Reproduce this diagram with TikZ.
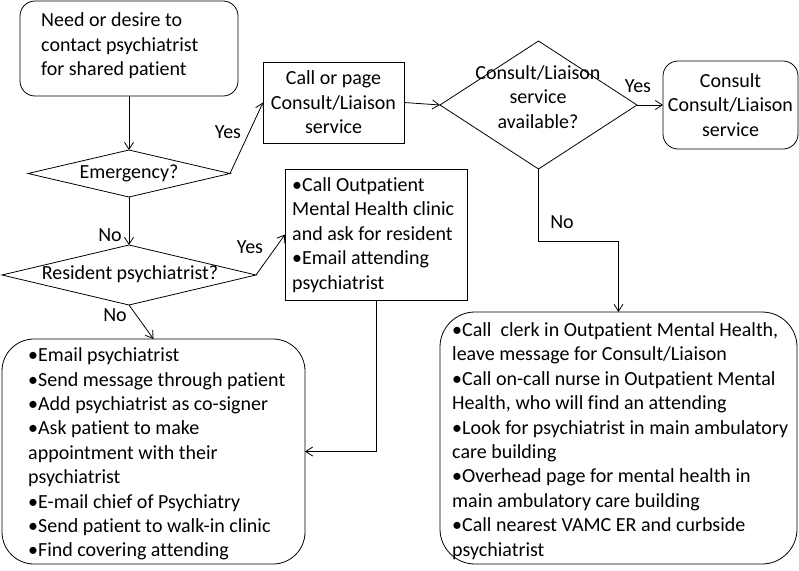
\documentclass[tikz,border=0pt]{standalone}
\usepackage{fontspec}
\setmainfont{Carlito}[Ligatures=NoCommon]
\usetikzlibrary{arrows.meta,shapes.geometric}
\newcommand{\fs}{\fontsize{20pt}{24.4pt}\selectfont}
\begin{document}
\begin{tikzpicture}[x=1pt,y=-1pt,
  box/.style={draw, line width=0.8pt, inner sep=0pt, outer sep=0pt, align=center, font=\fs},
  rbox/.style={box, rounded corners=15pt},
  diam/.style={draw, diamond, line width=0.8pt, inner sep=0pt, outer sep=0pt},
  lbl/.style={font=\fs, inner sep=0pt},
  txt/.style={font=\fs, inner sep=0pt, align=left, anchor=west},
  arr/.style={line width=0.8pt, -{Straight Barb[length=7pt,width=9pt]}}]
\useasboundingbox (0,0) rectangle (799,570);

\node[rbox, minimum width=218pt, minimum height=95pt] (start) at (129,48.5) {};
\node[txt] (startt) at (41,46) {Need or desire to\\contact psychiatrist\\for shared patient};

\node[diam, minimum width=202pt, minimum height=47pt] (emerg) at (129,173.5) {};
\node[lbl] (emergt) at (129,173) {Emergency?};

\node[diam, minimum width=254pt, minimum height=60pt] (res) at (129,275) {};
\node[lbl] (rest) at (130,274) {Resident psychiatrist?};

\node[box, minimum width=141pt, minimum height=81pt] (call) at (333.5,102.5) {Call or page\\Consult/Liaison\\service};

\node[box, minimum width=182pt, minimum height=131pt] (out) at (376,234.5) {};
\node[txt] (outt) at (292,235) {•Call Outpatient\\Mental Health clinic\\and ask for resident\\•Email attending\\psychiatrist};

\node[diam, minimum width=197pt, minimum height=128pt] (cons) at (538.5,105) {};
\node[lbl, align=center] (const) at (538,97) {Consult/Liaison\\service\\available?};

\node[rbox, minimum width=135pt, minimum height=88pt] (consult) at (730.5,105) {Consult\\Consult/Liaison\\service};

\node[box, rounded corners=32pt, minimum width=303pt, minimum height=225pt] (left) at (153.5,451.5) {};
\node[txt] (leftt) at (28,454) {•Email psychiatrist\\•Send message through patient\\•Add psychiatrist as co-signer\\•Ask patient to make\\appointment with their\\psychiatrist\\•E-mail chief of Psychiatry\\•Send patient to walk-in clinic\\•Find covering attending};

\node[box, rounded corners=35pt, minimum width=357pt, minimum height=252pt] (right) at (618.5,438) {};
\node[txt] (rightt) at (452,441) {•Call\ \ clerk in Outpatient Mental Health,\\leave message for Consult/Liaison\\•Call on-call nurse in Outpatient Mental\\Health, who will find an attending\\•Look for psychiatrist in main ambulatory\\care building\\•Overhead page for mental health in\\main ambulatory care building\\•Call nearest VAMC ER and curbside\\psychiatrist};

\draw[arr] (start.south) -- (emerg.north);
\draw[arr] (emerg.east) -- (call.west);
\draw[arr] (emerg.south) -- (res.north);
\draw[arr] (res.east) -- (out.west);
\draw[arr] (res.south) -- (left.north);
\draw[arr] (out.south) |- (left.east);
\draw[arr] (call.east) -- (cons.west);
\draw[arr] (cons.east) -- (consult.west);
\draw[arr] (cons.south) -- ++(0,72) -| (right.north);

\node[lbl] (yes1) at (228,132) {Yes};
\node[lbl] (no1) at (110,235) {No};
\node[lbl] (yes2) at (250,247) {Yes};
\node[lbl] (no2) at (115,315) {No};
\node[lbl] (yes3) at (638,86) {Yes};
\node[lbl] (no3) at (562,222) {No};
\end{tikzpicture}
\end{document}
